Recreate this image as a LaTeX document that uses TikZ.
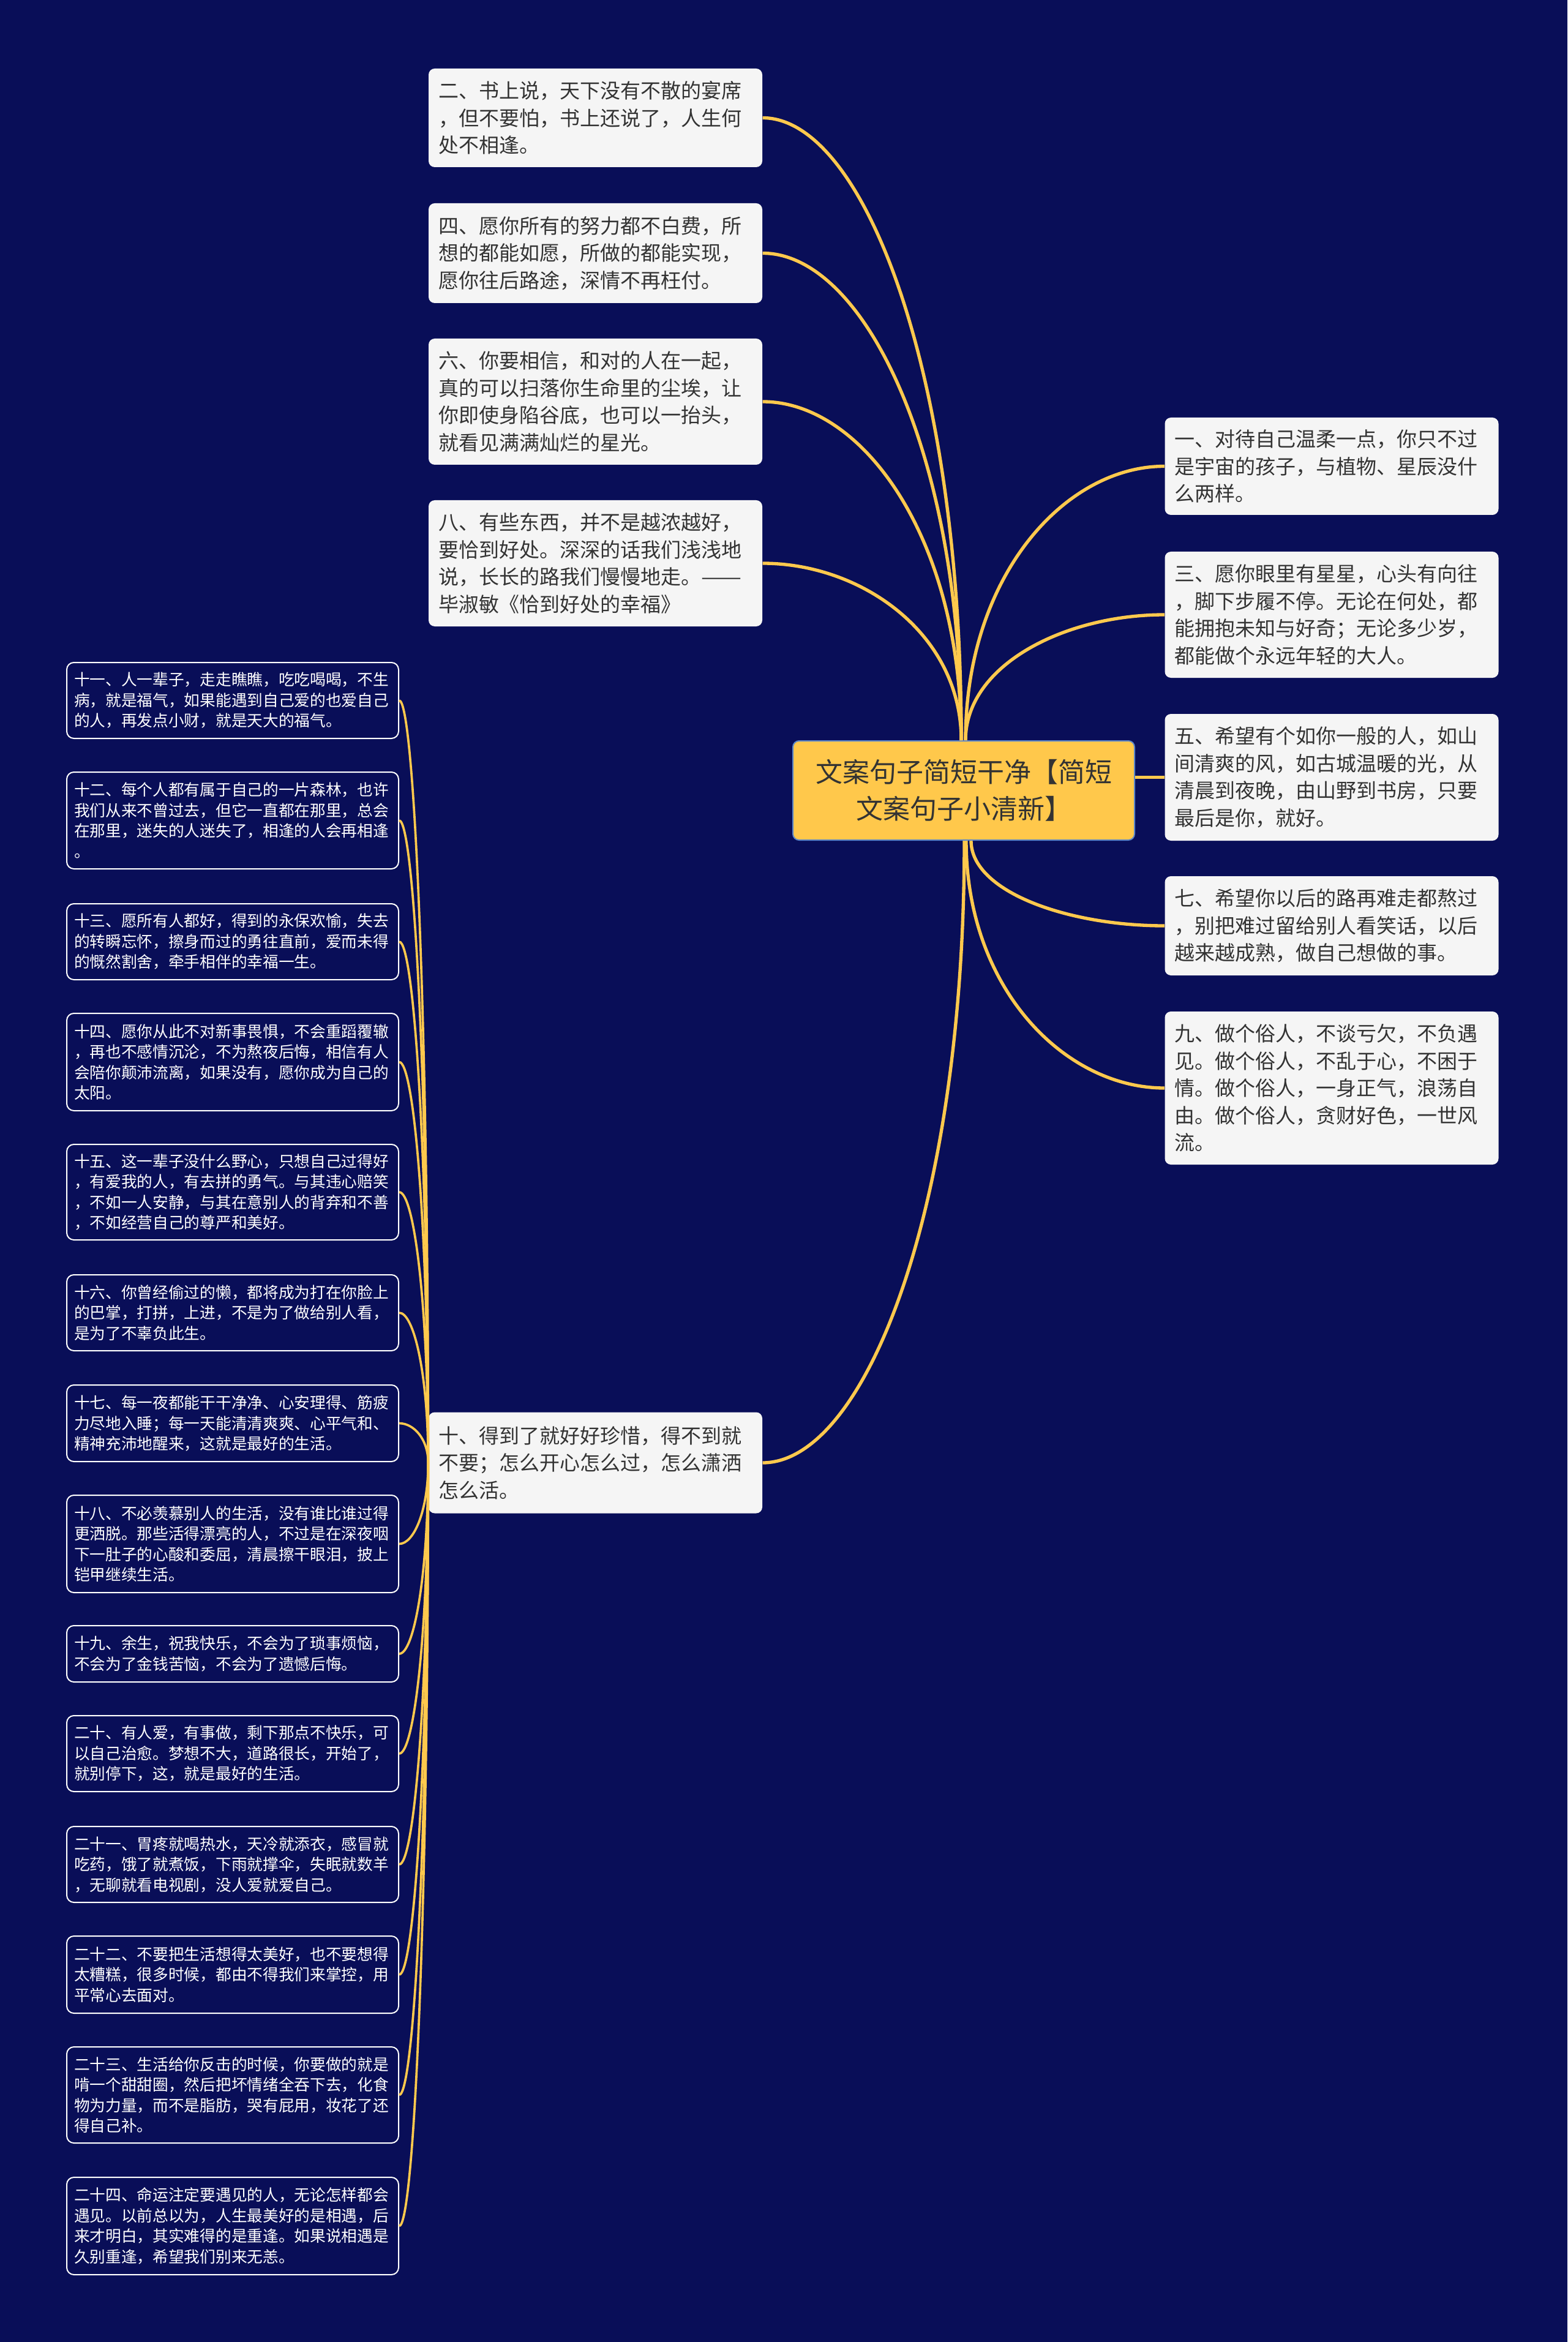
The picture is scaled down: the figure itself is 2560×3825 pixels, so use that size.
\documentclass[tikz,border=0pt]{standalone}
\usepackage{fontspec}
\usepackage{graphicx}
\setmainfont{Noto Sans CJK SC}
\usetikzlibrary{calc}
\definecolor{bgnavy}{RGB}{9,14,88}
\definecolor{linkyel}{RGB}{255,201,77}
\definecolor{cfill}{RGB}{255,200,75}
\definecolor{cborder}{RGB}{91,134,201}
\definecolor{wfill}{RGB}{245,245,245}
\definecolor{tdark}{RGB}{51,51,51}
\newcommand{\linkto}[3][]{\draw[#1] (#2) .. controls ($(#2)!0.6!(#2|-#3)$) and ($(#3)!0.5!(#3-|#2)$) .. (#3);}
\begin{document}
\begin{tikzpicture}[x=0.3pt,y=-0.3pt,
  bigbox/.style={fill=wfill, rounded corners=3pt, text=tdark, font=\fontsize{9.9pt}{13.35pt}\selectfont, text width=153.9pt, inner xsep=4.8pt, inner ysep=0pt, align=left},
  smallbox/.style={fill=bgnavy, draw=white, line width=0.6pt, rounded corners=3.5pt, text=white, font=\fontsize{7.71pt}{10.05pt}\selectfont, text width=155.4pt, inner xsep=3.6pt, inner ysep=0pt, align=left},
  central/.style={fill=cfill, draw=cborder, line width=0.6pt, rounded corners=3pt, text=tdark, font=\fontsize{13.2pt}{18pt}\selectfont, align=center, minimum width=167.4pt, minimum height=48.6pt, inner sep=0pt},
  mainlink/.style={draw=linkyel, line width=1.6pt},
  sublink/.style={draw=linkyel, line width=1.1pt}]
\fill[bgnavy] (0,0) rectangle (2560,3825);
\useasboundingbox (0,0) rectangle (2560,3825);

% central
\node[central] (c) at (1574,1291) {文案句子简短干净【简短\\文案句子小清新】};

% upper-left big boxes
\node[bigbox, minimum height=161*0.3pt] (n2) at (972.5,192.5) {二、书上说，天下没有不散的宴席\\，但不要怕，书上还说了，人生何\\处不相逢。};
\node[bigbox, minimum height=163*0.3pt] (n4) at (972.5,413.5) {四、愿你所有的努力都不白费，所\\想的都能如愿，所做的都能实现，\\愿你往后路途，深情不再枉付。};
\node[bigbox, minimum height=206*0.3pt] (n6) at (972.5,656) {六、你要相信，和对的人在一起，\\真的可以扫落你生命里的尘埃，让\\你即使身陷谷底，也可以一抬头，\\就看见满满灿烂的星光。};
\node[bigbox, minimum height=206*0.3pt] (n8) at (972.5,920) {八、有些东西，并不是越浓越好，\\要恰到好处。深深的话我们浅浅地\\说，长长的路我们慢慢地走。\resizebox{2em}{\height}{——}\\毕淑敏《恰到好处的幸福》};
\node[bigbox, minimum height=165*0.3pt] (n10) at (972.5,2389) {十、得到了就好好珍惜，得不到就\\不要；怎么开心怎么过，怎么潇洒\\怎么活。};

% right big boxes
\node[bigbox, minimum height=159*0.3pt] (n1) at (2175,761.5) {一、对待自己温柔一点，你只不过\\是宇宙的孩子，与植物、星辰没什\\么两样。};
\node[bigbox, minimum height=206*0.3pt] (n3) at (2175,1004) {三、愿你眼里有星星，心头有向往\\，脚下步履不停。无论在何处，都\\能拥抱未知与好奇；无论多少岁，\\都能做个永远年轻的大人。};
\node[bigbox, minimum height=207*0.3pt] (n5) at (2175,1269.5) {五、希望有个如你一般的人，如山\\间清爽的风，如古城温暖的光，从\\清晨到夜晚，由山野到书房，只要\\最后是你，就好。};
\node[bigbox, minimum height=162*0.3pt] (n7) at (2175,1512) {七、希望你以后的路再难走都熬过\\，别把难过留给别人看笑话，以后\\越来越成熟，做自己想做的事。};
\node[bigbox, minimum height=250*0.3pt] (n9) at (2175,1777) {九、做个俗人，不谈亏欠，不负遇\\见。做个俗人，不乱于心，不困于\\情。做个俗人，一身正气，浪荡自\\由。做个俗人，贪财好色，一世风\\流。};

% left small boxes
\node[smallbox, minimum height=124*0.3pt] (n11) at (380,1144) {十一、人一辈子，走走瞧瞧，吃吃喝喝，不生\\病，就是福气，如果能遇到自己爱的也爱自己\\的人，再发点小财，就是天大的福气。};
\node[smallbox, minimum height=158*0.3pt] (n12) at (380,1340) {十二、每个人都有属于自己的一片森林，也许\\我们从来不曾过去，但它一直都在那里，总会\\在那里，迷失的人迷失了，相逢的人会再相逢\\。};
\node[smallbox, minimum height=124*0.3pt] (n13) at (380,1538) {十三、愿所有人都好，得到的永保欢愉，失去\\的转瞬忘怀，擦身而过的勇往直前，爱而未得\\的慨然割舍，牵手相伴的幸福一生。};
\node[smallbox, minimum height=159*0.3pt] (n14) at (380,1734.5) {十四、愿你从此不对新事畏惧，不会重蹈覆辙\\，再也不感情沉沦，不为熬夜后悔，相信有人\\会陪你颠沛流离，如果没有，愿你成为自己的\\太阳。};
\node[smallbox, minimum height=156*0.3pt] (n15) at (380,1947) {十五、这一辈子没什么野心，只想自己过得好\\，有爱我的人，有去拼的勇气。与其违心赔笑\\，不如一人安静，与其在意别人的背弃和不善\\，不如经营自己的尊严和美好。};
\node[smallbox, minimum height=124*0.3pt] (n16) at (380,2144) {十六、你曾经偷过的懒，都将成为打在你脸上\\的巴掌，打拼，上进，不是为了做给别人看，\\是为了不辜负此生。};
\node[smallbox, minimum height=125*0.3pt] (n17) at (380,2324.5) {十七、每一夜都能干干净净、心安理得、筋疲\\力尽地入睡；每一天能清清爽爽、心平气和、\\精神充沛地醒来，这就是最好的生活。};
\node[smallbox, minimum height=159*0.3pt] (n18) at (380,2521.5) {十八、不必羡慕别人的生活，没有谁比谁过得\\更洒脱。那些活得漂亮的人，不过是在深夜咽\\下一肚子的心酸和委屈，清晨擦干眼泪，披上\\铠甲继续生活。};
\node[smallbox, minimum height=92*0.3pt] (n19) at (380,2701) {十九、余生，祝我快乐，不会为了琐事烦恼，\\不会为了金钱苦恼，不会为了遗憾后悔。};
\node[smallbox, minimum height=124*0.3pt] (n20) at (380,2864) {二十、有人爱，有事做，剩下那点不快乐，可\\以自己治愈。梦想不大，道路很长，开始了，\\就别停下，这，就是最好的生活。};
\node[smallbox, minimum height=124*0.3pt] (n21) at (380,3045) {二十一、胃疼就喝热水，天冷就添衣，感冒就\\吃药，饿了就煮饭，下雨就撑伞，失眠就数羊\\，无聊就看电视剧，没人爱就爱自己。};
\node[smallbox, minimum height=126*0.3pt] (n22) at (380,3225) {二十二、不要把生活想得太美好，也不要想得\\太糟糕，很多时候，都由不得我们来掌控，用\\平常心去面对。};
\node[smallbox, minimum height=157*0.3pt] (n23) at (380,3421.5) {二十三、生活给你反击的时候，你要做的就是\\啃一个甜甜圈，然后把坏情绪全吞下去，化食\\物为力量，而不是脂肪，哭有屁用，妆花了还\\得自己补。};
\node[smallbox, minimum height=159*0.3pt] (n24) at (380,3635.5) {二十四、命运注定要遇见的人，无论怎样都会\\遇见。以前总以为，人生最美好的是相遇，后\\来才明白，其实难得的是重逢。如果说相遇是\\久别重逢，希望我们别来无恙。};

% start points on the central node
\coordinate (tl) at ([xshift=-1.2pt]c.north);
\coordinate (tr) at ([xshift=0.9pt]c.north);
\coordinate (b10) at ([xshift=0.3pt]c.south);
\coordinate (b9) at ([xshift=1.2pt]c.south);
\coordinate (b7) at ([xshift=3.6pt]c.south);

% main connectors
\linkto[mainlink]{tl}{n2.east}
\linkto[mainlink]{tl}{n4.east}
\linkto[mainlink]{tl}{n6.east}
\linkto[mainlink]{tl}{n8.east}
\linkto[mainlink]{tr}{n1.west}
\linkto[mainlink]{tr}{n3.west}
\draw[mainlink] (n5.west -| c.east) -- (n5.west);
\linkto[mainlink]{b7}{n7.west}
\linkto[mainlink]{b9}{n9.west}
\linkto[mainlink]{b10}{n10.east}

% sub connectors
\foreach \k in {11,...,24}{
  \linkto[sublink]{n10.west}{n\k.east}
}
\end{tikzpicture}
\end{document}
